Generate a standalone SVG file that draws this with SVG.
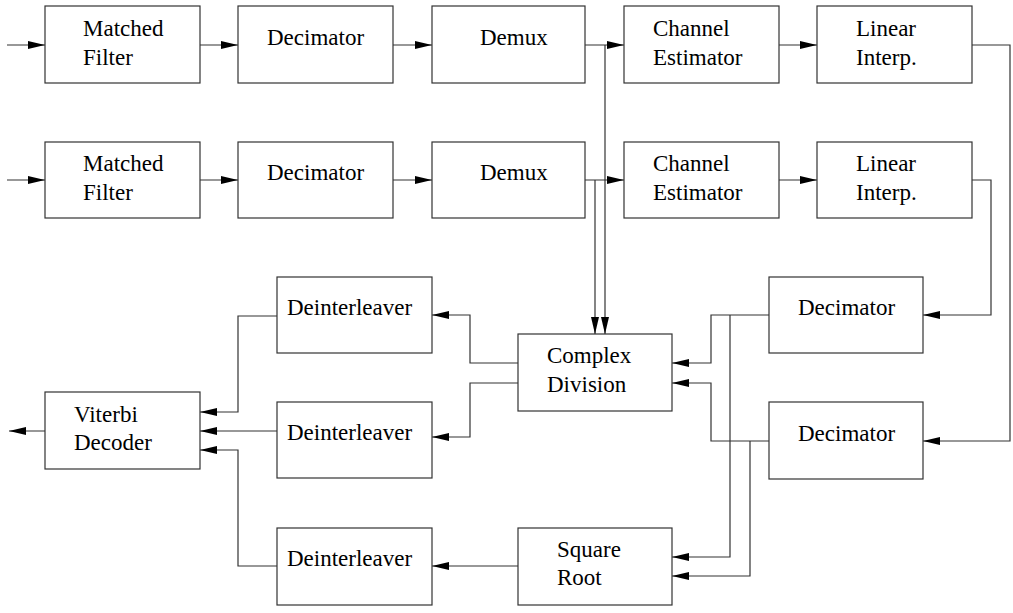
<svg xmlns="http://www.w3.org/2000/svg" width="1013" height="613" viewBox="0 0 1013 613">
<style>
.box{fill:#fff;stroke:#333;stroke-width:1.2}
.t{font-family:"Liberation Serif","Times New Roman",serif;font-size:23px;fill:#000}
.c{fill:none;stroke:#333;stroke-width:1.2}
</style>
<defs>
<marker id="ah" markerUnits="userSpaceOnUse" markerWidth="18" markerHeight="10" refX="17" refY="4.5" orient="auto">
<path d="M0,0.5 L17,4.5 L0,8.5 z" fill="#000"/>
</marker>
</defs>
<rect width="1013" height="613" fill="#fff"/>
<g id="connectors">
<path class="c" d="M7,45 H45" marker-end="url(#ah)"/>
<path class="c" d="M7,180 H45" marker-end="url(#ah)"/>
<path class="c" d="M200,45 H238" marker-end="url(#ah)"/>
<path class="c" d="M200,180 H238" marker-end="url(#ah)"/>
<path class="c" d="M393,45 H432" marker-end="url(#ah)"/>
<path class="c" d="M393,180 H432" marker-end="url(#ah)"/>
<path class="c" d="M585,45 H624" marker-end="url(#ah)"/>
<path class="c" d="M585,180 H624" marker-end="url(#ah)"/>
<path class="c" d="M779,45 H817" marker-end="url(#ah)"/>
<path class="c" d="M779,180 H817" marker-end="url(#ah)"/>
<path class="c" d="M972,45 H1010 V441 H923" marker-end="url(#ah)"/>
<path class="c" d="M972,180 H991 V315 H923" marker-end="url(#ah)"/>
<path class="c" d="M605,45 V334" marker-end="url(#ah)"/>
<path class="c" d="M595,180 V334" marker-end="url(#ah)"/>
<path class="c" d="M518,363 H470 V315 H432" marker-end="url(#ah)"/>
<path class="c" d="M518,383 H470 V437 H432" marker-end="url(#ah)"/>
<path class="c" d="M277,316 H238 V412 H200" marker-end="url(#ah)"/>
<path class="c" d="M277,431 H200" marker-end="url(#ah)"/>
<path class="c" d="M277,566 H238 V450 H200" marker-end="url(#ah)"/>
<path class="c" d="M45,431 H9" marker-end="url(#ah)"/>
<path class="c" d="M769,315 H711 V363 H672" marker-end="url(#ah)"/>
<path class="c" d="M730,315 V557 H672" marker-end="url(#ah)"/>
<path class="c" d="M769,441 H711 V383 H672" marker-end="url(#ah)"/>
<path class="c" d="M750,441 V576 H672" marker-end="url(#ah)"/>
<path class="c" d="M518,566 H432" marker-end="url(#ah)"/>
</g>
<g id="mf1"><rect class="box" x="45" y="6" width="155" height="77"/><text class="t" x="83" y="36">Matched</text><text class="t" x="83" y="65">Filter</text></g>
<g id="dec1"><rect class="box" x="238" y="6" width="155" height="77"/><text class="t" x="267" y="45">Decimator</text></g>
<g id="demux1"><rect class="box" x="432" y="6" width="153" height="77"/><text class="t" x="480" y="45">Demux</text></g>
<g id="ce1"><rect class="box" x="624" y="6" width="155" height="77"/><text class="t" x="653" y="36">Channel</text><text class="t" x="653" y="65">Estimator</text></g>
<g id="li1"><rect class="box" x="817" y="6" width="155" height="77"/><text class="t" x="856" y="36">Linear</text><text class="t" x="856" y="65">Interp.</text></g>
<g id="mf2"><rect class="box" x="45" y="142" width="155" height="76"/><text class="t" x="83" y="171">Matched</text><text class="t" x="83" y="200">Filter</text></g>
<g id="dec2"><rect class="box" x="238" y="142" width="155" height="76"/><text class="t" x="267" y="180">Decimator</text></g>
<g id="demux2"><rect class="box" x="432" y="142" width="153" height="76"/><text class="t" x="480" y="180">Demux</text></g>
<g id="ce2"><rect class="box" x="624" y="142" width="155" height="76"/><text class="t" x="653" y="171">Channel</text><text class="t" x="653" y="200">Estimator</text></g>
<g id="li2"><rect class="box" x="817" y="142" width="155" height="76"/><text class="t" x="856" y="171">Linear</text><text class="t" x="856" y="200">Interp.</text></g>
<g id="deint1"><rect class="box" x="277" y="277" width="155" height="76"/><text class="t" x="287" y="315">Deinterleaver</text></g>
<g id="deint2"><rect class="box" x="277" y="402" width="155" height="76"/><text class="t" x="287" y="440">Deinterleaver</text></g>
<g id="deint3"><rect class="box" x="277" y="528" width="155" height="77"/><text class="t" x="287" y="566">Deinterleaver</text></g>
<g id="cdiv"><rect class="box" x="518" y="334" width="154" height="77"/><text class="t" x="547" y="363">Complex</text><text class="t" x="547" y="392">Division</text></g>
<g id="ldec1"><rect class="box" x="769" y="277" width="154" height="76"/><text class="t" x="798" y="315">Decimator</text></g>
<g id="ldec2"><rect class="box" x="769" y="402" width="154" height="77"/><text class="t" x="798" y="441">Decimator</text></g>
<g id="viterbi"><rect class="box" x="45" y="392" width="155" height="77"/><text class="t" x="74" y="422">Viterbi</text><text class="t" x="74" y="450">Decoder</text></g>
<g id="sqrt"><rect class="box" x="518" y="528" width="154" height="77"/><text class="t" x="557" y="557">Square</text><text class="t" x="557" y="585">Root</text></g>
</svg>
